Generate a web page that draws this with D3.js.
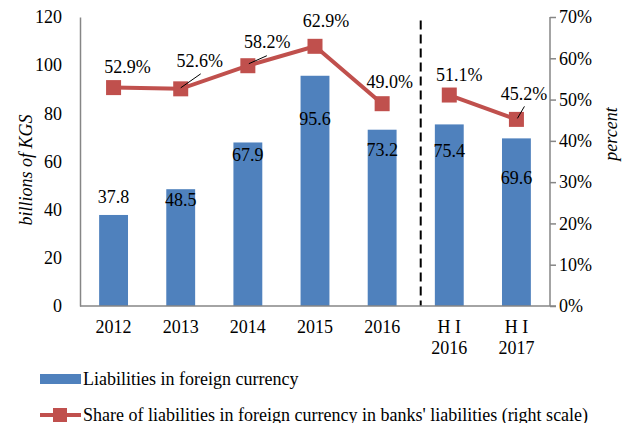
<!DOCTYPE html>
<html>
<head>
<meta charset="utf-8">
<script src="https://cdn.jsdelivr.net/npm/d3@7/dist/d3.min.js"></script>
<style>
  body { margin: 0; background: #fff; }
  svg, svg text { font-family: "Liberation Serif", "DejaVu Serif", "Times New Roman", serif !important; fill: #000; }
</style>
</head>
<body>
<div id="chart"></div>
<script>
var categories = ["2012", "2013", "2014", "2015", "2016", "H I\n2016", "H I\n2017"];
var liabilities = [37.8, 48.5, 67.9, 95.6, 73.2, 75.4, 69.6];
var share = [52.9, 52.6, 58.2, 62.9, 49.0, 51.1, 45.2];
var leftTicks = [0, 20, 40, 60, 80, 100, 120];
var rightTicks = [0, 10, 20, 30, 40, 50, 60, 70];

// label placement (dx, dy from the mark)
var barLabelOff = [[0, -12], [0, 17], [0, 18.5], [0, 49], [0, 26], [0, 32.5], [0, 45.5]];
var lineLabelOff = [[14, -14.5], [19, -22], [19.5, -18], [11, -19], [7.5, -16], [10, -14], [7.5, -19.5]];
var leaders = [null, [[0, -1], [20, -15]], [[1, -2], [19, -10]], null, null, null, [[1, -1], [8, -13]]];

var serif = "'Liberation Serif', 'DejaVu Serif', serif";
var fs = "18px";

var width = 630, height = 423,
    margin = {top: 17, right: 80, bottom: 117, left: 80},
    w = width - margin.left - margin.right,
    h = height - margin.top - margin.bottom;

var svg = d3.select("#chart").append("svg")
    .attr("width", width)
    .attr("height", height)
    .attr("font-family", serif);

var g = svg.append("g").attr("transform", "translate(" + margin.left + "," + margin.top + ")");

var x = d3.scaleBand().domain(categories).range([0, w]).paddingInner(0.57).paddingOuter(0.285);
var y = d3.scaleLinear().domain([0, 120]).range([h, 0]);
var y2 = d3.scaleLinear().domain([0, 70]).range([h, 0]);

var axisColor = "#868686";

// bars
g.selectAll(".bar")
    .data(liabilities)
    .enter().append("rect")
      .attr("class", "bar")
      .attr("x", function(d, i) { return x(categories[i]); })
      .attr("y", function(d) { return y(d); })
      .attr("width", x.bandwidth())
      .attr("height", function(d) { return h - y(d); })
      .attr("fill", "#4F81BD");

// dashed separator between annual and half-year data
var step = x.step();
var sepX = x(categories[5]) - (step - x.bandwidth()) / 2 + 5;
g.append("line")
    .attr("x1", sepX).attr("x2", sepX)
    .attr("y1", y(118.5)).attr("y2", h)
    .attr("stroke", "#000")
    .attr("stroke-width", 2)
    .attr("stroke-dasharray", "9,5");

// axes
var left = g.append("g").call(d3.axisLeft(y).tickValues(leftTicks).tickSize(0).tickPadding(18));
left.attr("font-family", serif);
left.select(".domain").attr("stroke", axisColor).attr("stroke-width", 1.5);
left.selectAll("text").style("font-size", fs);

var right = g.append("g").attr("transform", "translate(" + w + ",0)")
    .call(d3.axisRight(y2).tickValues(rightTicks).tickSize(6).tickPadding(3).tickFormat(function(d) { return d + "%"; }));
right.attr("font-family", serif);
right.select(".domain").attr("stroke", axisColor).attr("stroke-width", 1.5).attr("d", "M0,0V" + h);
right.selectAll("line").attr("stroke", axisColor).attr("stroke-width", 1.5);
right.selectAll("text").style("font-size", fs);

g.append("line")
    .attr("x1", 0).attr("x2", w + 6)
    .attr("y1", h).attr("y2", h)
    .attr("stroke", axisColor).attr("stroke-width", 1.5);

// category labels
var cat = g.selectAll(".cat")
    .data(categories)
    .enter().append("text")
      .attr("class", "cat")
      .attr("text-anchor", "middle")
      .attr("transform", function(d) { return "translate(" + (x(d) + x.bandwidth() / 2) + "," + (h + 27) + ")"; })
      .style("font-size", fs);
cat.each(function(d) {
  var t = d3.select(this);
  d.split("\n").forEach(function(s, k) {
    t.append("tspan").attr("x", 0).attr("dy", k ? 21 : 0).text(s);
  });
});

// bar value labels
g.selectAll(".blab")
    .data(liabilities)
    .enter().append("text")
      .attr("class", "blab")
      .attr("text-anchor", "middle")
      .attr("x", function(d, i) { return x(categories[i]) + x.bandwidth() / 2 + barLabelOff[i][0]; })
      .attr("y", function(d, i) { return y(d) + barLabelOff[i][1]; })
      .style("font-size", fs)
      .text(function(d) { return d.toFixed(1); });

// line series
var cx = function(i) { return x(categories[i]) + x.bandwidth() / 2; };
var line = d3.line()
    .x(function(d, i) { return cx(i); })
    .y(function(d) { return y2(d); });

g.append("path")
    .datum(share.slice(0, 5))
    .attr("d", line)
    .attr("fill", "none")
    .attr("stroke", "#C0504D")
    .attr("stroke-width", 4);

g.append("path")
    .datum(share.slice(5))
    .attr("d", d3.line().x(function(d, i) { return cx(i + 5); }).y(function(d) { return y2(d); }))
    .attr("fill", "none")
    .attr("stroke", "#C0504D")
    .attr("stroke-width", 4);

g.selectAll(".mk")
    .data(share)
    .enter().append("rect")
      .attr("class", "mk")
      .attr("x", function(d, i) { return cx(i) - 7.5; })
      .attr("y", function(d) { return y2(d) - 7.5; })
      .attr("width", 15).attr("height", 15)
      .attr("fill", "#C0504D");

// leader lines
leaders.forEach(function(l, i) {
  if (!l) return;
  g.append("line")
    .attr("x1", cx(i) + l[0][0]).attr("y1", y2(share[i]) + l[0][1])
    .attr("x2", cx(i) + l[1][0]).attr("y2", y2(share[i]) + l[1][1])
    .attr("stroke", "#000").attr("stroke-width", 1);
});

g.selectAll(".llab")
    .data(share)
    .enter().append("text")
      .attr("class", "llab")
      .attr("text-anchor", "middle")
      .attr("x", function(d, i) { return cx(i) + lineLabelOff[i][0]; })
      .attr("y", function(d, i) { return y2(d) + lineLabelOff[i][1]; })
      .style("font-size", fs)
      .text(function(d) { return d.toFixed(1) + "%"; });

// axis titles
svg.append("text")
    .attr("transform", "translate(32,170) rotate(-90)")
    .attr("text-anchor", "middle")
    .style("font-size", fs)
    .style("font-style", "italic")
    .text("billions of KGS");

svg.append("text")
    .attr("transform", "translate(617,134) rotate(-90)")
    .attr("text-anchor", "middle")
    .style("font-size", fs)
    .style("font-style", "italic")
    .text("percent");

// legend
var lg = svg.append("g");
lg.append("rect").attr("x", 40).attr("y", 374).attr("width", 41).attr("height", 10).attr("fill", "#4F81BD");
lg.append("text").attr("x", 83).attr("y", 385).style("font-size", fs).text("Liabilities in foreign currency");
lg.append("line").attr("x1", 40).attr("x2", 81).attr("y1", 415).attr("y2", 415)
    .attr("stroke", "#C0504D").attr("stroke-width", 4);
lg.append("rect").attr("x", 53).attr("y", 408).attr("width", 14).attr("height", 14).attr("fill", "#C0504D");
lg.append("text").attr("x", 83).attr("y", 421).style("font-size", fs)
    .text("Share of liabilities in foreign currency in banks' liabilities (right scale)");
</script>
</body>
</html>
